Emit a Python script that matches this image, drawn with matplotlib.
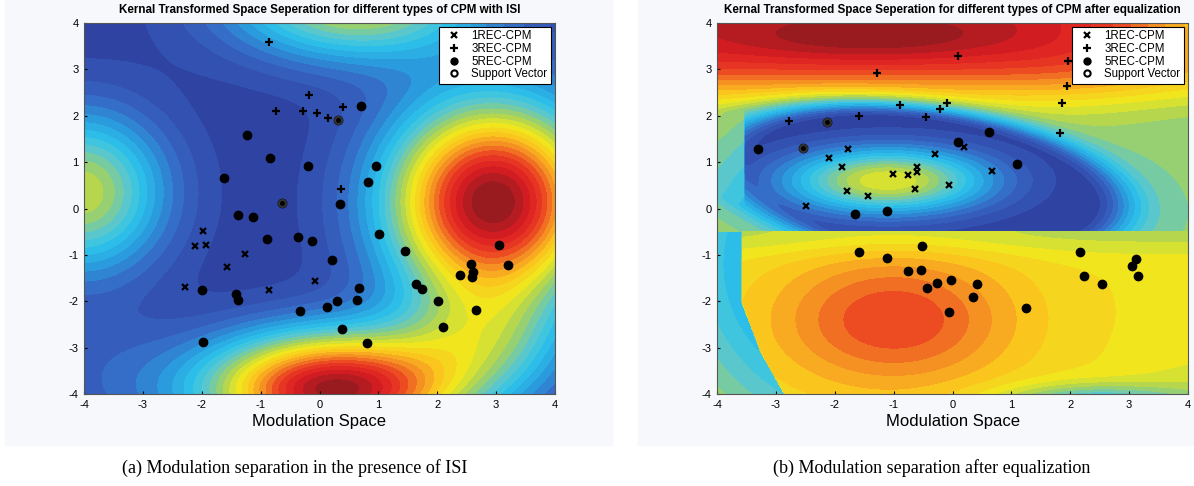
import numpy as np
import matplotlib.pyplot as plt
from matplotlib.colors import LinearSegmentedColormap
from matplotlib.patches import Rectangle
from matplotlib.lines import Line2D

plt.rcParams['font.family'] = ['Liberation Sans', 'DejaVu Sans']
plt.rcParams['axes.unicode_minus'] = False

# ---------------- scatter points, (a) with ISI ----------------
isi_1rec_x = [-1.98, -2.12, -1.93, -1.27, -1.57, -2.29, -0.86, -0.08]
isi_1rec_y = [-0.48, -0.80, -0.78, -0.98, -1.27, -1.69, -1.75, -1.56]
isi_3rec_x = [-0.86, -0.18, -0.74, -0.28, -0.04, 0.14, 0.40, 0.37]
isi_3rec_y = [3.59, 2.44, 2.10, 2.10, 2.05, 1.95, 2.19, 0.43]
isi_5rec_x = [-1.23, -0.84, -0.20, -1.62, -0.64, -1.38, -1.13, 0.70, 0.31, 0.96,
              0.82, 0.35, -0.89, -0.37, -0.13, -2.00, -1.42, -1.38, -0.33, -1.98,
              1.01, 0.21, 1.45, 0.67, 0.63, 0.30, 0.13, 0.38, 0.80, 1.64,
              1.74, 2.01, 2.10, 2.38, 2.57, 2.60, 2.59, 3.05, 3.20, 2.65]
isi_5rec_y = [1.58, 1.08, 0.91, 0.65, 0.11, -0.15, -0.19, 2.21, 1.90, 0.91,
              0.58, 0.09, -0.65, -0.61, -0.70, -1.75, -1.84, -1.97, -2.21, -2.88,
              -0.56, -1.10, -0.91, -1.71, -1.97, -1.99, -2.12, -2.59, -2.90, -1.62,
              -1.73, -1.99, -2.55, -1.43, -1.19, -1.38, -1.47, -0.78, -1.21, -2.18]
isi_sv_x = [0.31, -0.64]
isi_sv_y = [1.90, 0.11]

# ---------------- scatter points, (b) after equalization ----------------
eq_1rec_x = [-1.78, -2.10, -1.88, -1.79, -1.44, -2.49, -1.01, -0.76, -0.60, -0.60,
             -0.64, -0.30, 0.19, 0.67, -0.06]
eq_1rec_y = [1.28, 1.08, 0.89, 0.37, 0.28, 0.06, 0.74, 0.72, 0.89, 0.78,
             0.43, 1.18, 1.32, 0.80, 0.50]
eq_3rec_x = [-1.28, -2.78, -1.59, -0.89, -0.45, -0.22, -0.10, 0.09, 1.96, 1.94, 1.86, 1.82]
eq_3rec_y = [2.92, 1.88, 1.99, 2.23, 1.97, 2.14, 2.27, 3.29, 3.18, 2.64, 2.27, 1.62]
eq_5rec_x = [-3.30, -2.54, -2.13, -1.66, -1.11, 0.62, 0.09, 1.09, -1.59, -1.11,
             -0.52, -0.76, -0.54, -0.43, -0.26, -0.03, 0.41, 0.35, -0.06, 1.25,
             2.16, 2.23, 2.54, 3.05, 3.11, 3.15]
eq_5rec_y = [1.28, 1.30, 1.86, -0.11, -0.06, 1.66, 1.43, 0.95, -0.93, -1.06,
             -0.80, -1.34, -1.32, -1.71, -1.60, -1.54, -1.62, -1.90, -2.23, -2.14,
             -0.93, -1.45, -1.62, -1.25, -1.08, -1.45]
eq_sv_x = [-2.54, -2.13]
eq_sv_y = [1.30, 1.86]

titles = ['Kernal Transformed Space Seperation for different types of CPM with ISI',
          'Kernal Transformed Space Seperation for different types of CPM after equalization']
captions = ['(a) Modulation separation in the presence of ISI',
            '(b) Modulation separation after equalization']
legend_labels = ['1REC-CPM', '3REC-CPM', '5REC-CPM', 'Support Vector']
ticks = [-4, -3, -2, -1, 0, 1, 2, 3, 4]

# kernel bumps of the ISI decision surface: cx, cy, weight, sx, sy
isi_base = 0.08
isi_cx = [2.95, 0.25, 2.8, -4.05, 0.6, -3.6]
isi_cy = [0.15, -3.9, -2.8, 0.35, 4.5, -3.6]
isi_w = [0.92, 0.90, 0.26, 0.45, 0.48, 0.07]
isi_sx = [1.25, 1.50, 1.00, 1.00, 1.50, 1.00]
isi_sy = [1.50, 0.85, 0.90, 1.20, 0.90, 1.00]

colors = ['#232d8c', '#2d41a0', '#3764c3', '#28a5e1', '#2dc3eb', '#5fc8c8',
          '#a5d25a', '#f0e81e', '#fac81e', '#f58c23', '#eb3c23', '#dc1e23', '#8c191e']
nodes = [0.0, 0.08, 0.18, 0.28, 0.35, 0.42, 0.50, 0.58, 0.66, 0.74, 0.82, 0.90, 1.0]
cmap = LinearSegmentedColormap.from_list('fadedjet', list(zip(nodes, colors)))


def g(X, Y, cx, cy, sx, sy):
    return np.exp(-0.5 * (((X - cx) / sx) ** 2 + ((Y - cy) / sy) ** 2))


def isi_field(X, Y):
    f = np.full_like(X, isi_base)
    for cx, cy, w, sx, sy in zip(isi_cx, isi_cy, isi_w, isi_sx, isi_sy):
        f += w * g(X, Y, cx, cy, sx, sy)
    return np.clip(f, 0, 1)


def eq_field(X, Y):
    # upper half: blue moat around the 1REC cluster, red band on top
    top = 0.47 + 0.45 / (1 + np.exp(-(Y - 2.6) / 0.35))
    top += 0.10 * g(X, Y, -1.4, 3.7, 1.6, 0.35)
    top -= 0.3 * g(X, Y, 4.6, 4.6, 1.3, 1.3)
    inner = 0.5 * g(X, Y, -1.1, 0.6, 1.25, 0.5)
    ang = np.deg2rad(-10)
    u = (X + 0.55) * np.cos(ang) + (Y - 0.55) * np.sin(ang)
    v = -(X + 0.55) * np.sin(ang) + (Y - 0.55) * np.cos(ang)
    r = np.hypot(u / 2.85, v / 1.3)
    ramp = np.where(r > 1, 1 - np.exp(-((r - 1) / 0.3) ** 2), 0)
    upper = 0.07 + inner + ramp * (top - 0.07)
    # lower half: orange bump of the 5REC cluster
    lower = 0.6 + 0.22 * g(X, Y, -1.0, -2.4, 1.45, 1.05)
    lower -= 0.08 * np.exp(-0.5 * ((Y + 0.5) / 0.35) ** 2)
    lower -= 0.28 * g(X, Y, 2.4, -4.25, 1.1, 0.3)
    lower -= 0.06 * g(X, Y, 4.3, -4.3, 0.8, 0.8)
    # left rim
    rho = np.hypot((X + 0.9) / 2.75, (Y + 1.2) / 2.9)
    west = 0.33 + 0.3 * np.abs(rho - 1)
    xw = np.interp(-Y, [0.5, 2.0, 3.1, 4.0], [-3.58, -3.58, -3.25, -2.85])
    up = np.where(X > -3.55, upper, np.maximum(upper, west))
    low = np.where(X > xw, lower, west)
    return np.clip(np.where(Y > -0.5, up, low), 0, 1)


xs = np.linspace(-4, 4, 500)
X, Y = np.meshgrid(xs, xs)
fields = [isi_field(X, Y), eq_field(X, Y)]
points = [
    (isi_1rec_x, isi_1rec_y, isi_3rec_x, isi_3rec_y, isi_5rec_x, isi_5rec_y, isi_sv_x, isi_sv_y),
    (eq_1rec_x, eq_1rec_y, eq_3rec_x, eq_3rec_y, eq_5rec_x, eq_5rec_y, eq_sv_x, eq_sv_y),
]

fig = plt.figure(figsize=(11.94, 4.86), dpi=100)
for x0, x1 in [(5, 612), (638, 1194)]:
    fig.patches.append(Rectangle((x0 / 1194, 1 - 445 / 486), (x1 - x0) / 1194, 445 / 486,
                                 transform=fig.transFigure, color='#f7f8fb', zorder=-1))

lefts = [84 / 1194, 717 / 1194]
cap_x = [295 / 1194, 932 / 1194]
for i in range(2):
    ax = fig.add_axes([lefts[i], 1 - 394 / 486, 471 / 1194, 371 / 486])
    ax.contourf(X, Y, fields[i], levels=np.linspace(0, 1, 29), cmap=cmap, extend='both')
    x1, y1, x3, y3, x5, y5, xs_, ys_ = points[i]
    ax.plot(x1, y1, 'x', color='black', ms=4, mew=1.6, ls='none')
    ax.plot(x3, y3, '+', color='black', ms=6, mew=1.6, ls='none')
    ax.plot(x5, y5, 'o', color='black', ms=6, ls='none')
    ax.plot(xs_, ys_, 'o', mfc='none', mec='#333333', ms=5, mew=1.5, ls='none')
    ax.set_xlim(-4, 4)
    ax.set_ylim(-4, 4)
    ax.set_xticks(ticks)
    ax.set_yticks(ticks)
    ax.tick_params(labelsize=8, length=2, direction='in', pad=4)
    for sp in ax.spines.values():
        sp.set_color('#555555')
        sp.set_linewidth(0.8)
    ax.set_title(titles[i], fontsize=8.4, fontweight='bold', pad=7)
    ax.set_xlabel('Modulation Space', fontsize=12, labelpad=3)
    handles = [
        Line2D([], [], marker='x', color='black', ms=4, mew=1.6, ls='none'),
        Line2D([], [], marker='+', color='black', ms=6, mew=1.6, ls='none'),
        Line2D([], [], marker='o', color='black', ms=5, ls='none'),
        Line2D([], [], marker='o', mfc='none', mec='black', ms=4.5, mew=1.5, ls='none'),
    ]
    leg = ax.legend(handles, legend_labels, loc='upper right', fontsize=8.3, fancybox=False,
                    framealpha=1, edgecolor='black', borderpad=0.3, labelspacing=0.05,
                    handletextpad=0.5, handlelength=2.0, borderaxespad=0.35)
    leg.get_frame().set_linewidth(0.8)
    fig.text(cap_x[i], 1 - 468 / 486, captions[i], family='Liberation Serif',
             fontsize=13, ha='center', va='center')

fig.savefig('out.png', dpi=100)
